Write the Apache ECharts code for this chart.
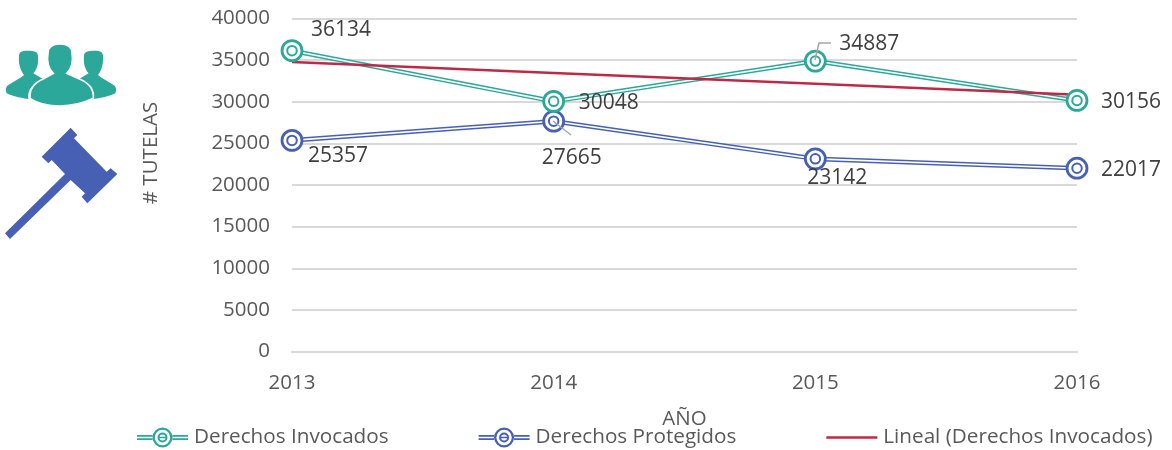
<!DOCTYPE html>
<html><head><meta charset="utf-8">
<style>html,body{margin:0;padding:0;background:#fff}#c{width:1172px;height:450px}</style>
<script src="https://cdn.jsdelivr.net/npm/echarts@6/dist/echarts.min.js"></script>
</head><body><div id="c"></div>
<script>
const years = ['2013','2014','2015','2016'];
const invocados = [36134,30048,34887,30156];
const protegidos = [25357,27665,23142,22017];
const tendencia = [34770,33460,32150,30840];
const invocadosOffsets = [[49,-21],[55,2],[54,-17],[54,2]];
const protegidosOffsets = [[46,16],[18,37],[22,19],[54,2]];
const TEAL='#2ca89a', BLUE='#4860b4', RED='#be2a45';
const FONT='"Open Sans", sans-serif';

const chart = echarts.init(document.getElementById('c'),null,{renderer:'canvas'});
function circ(cx,cy,r,cw){const s=cw?1:0;return `M${cx-r} ${cy}A${r} ${r} 0 1 ${s} ${cx+r} ${cy}A${r} ${r} 0 1 ${s} ${cx-r} ${cy}Z`;}
const legendIcon='path://M0 7.6H15.5V9.2H0ZM0 10.8H15.5V12.4H0ZM35.500 7.600H51V9.200H35.500ZM35.500 10.800H51V12.400H35.500Z'
 +circ(25.5,10,10,true)+circ(25.5,10,7.7,false)+circ(25.5,10,5,true)+circ(25.5,10,3,false)+'M21 9.300H30V10.700H21Z';
const trendIcon='path://M0 8.800H51V11.200H0Z';

function doubleLine(name,data,color,offsets){
  const common={type:'line',data,clip:false,animation:false,silent:true};
  return [
    {...common,name,lineStyle:{color,width:4.6},itemStyle:{color},symbol:'none'},
    {...common,name:name+' interior',lineStyle:{color:'#fff',width:1.6},symbol:'none'},
    {...common,name:name+' anillo',lineStyle:{width:0},symbol:'circle',symbolSize:20,
      itemStyle:{color:'#fff',borderColor:color,borderWidth:2.8}},
    {...common,name:name+' centro',lineStyle:{width:0},symbol:'circle',symbolSize:9.5,
      itemStyle:{color:'#fff',borderColor:color,borderWidth:2},
      data:data.map((v,i)=>({value:v,label:{show:true,position:'inside',offset:offsets[i],
        formatter:String(v),color:'#404040',fontSize:21,fontFamily:FONT}}))},
  ];
}
const P=[0,20], s=1/3;
const personLeft='M57 108C57 92 72 92 85 92C100 92 114 94 114 108C116 128 112 148 100 160L130 178L95 200C85 212 83 225 85 237C55 233 35 228 20 220C14 205 20 197 30 192C45 183 60 175 72 165C60 150 55 128 57 108Z';
const personRight='M309 108C309 92 294 92 281 92C266 92 252 94 252 108C250 128 254 148 266 160L236 178L271 200C281 212 283 225 281 237C311 233 331 228 346 220C352 205 346 197 336 192C321 183 306 175 294 165C306 150 311 128 309 108Z';
const personCenter='M144 100C144 78 160 72 180 72C202 72 216 80 216 100C221 125 214 148 200 160L240 178C268 190 282 210 280 235C245 252 215 258 180 258C145 258 115 252 90 235C88 210 100 190 128 178L160 160C146 148 139 125 144 100Z';
const gavel='M125 410L212 323L232 345L222 355L320 455L332 445L352 462L262 550L245 530L255 520L212 480L30 657L15 640L195 462L155 420L145 430Z';
const shapes={personLeft,personRight,personCenter,gavel};
Object.keys(shapes).forEach(k=>echarts.graphic.registerShape(k,echarts.graphic.extendPath(shapes[k],{})));
function icon(type,color,extra){return {type,x:P[0],y:P[1],scaleX:s,scaleY:s,silent:true,
  style:{fill:color,...(extra||{})}};}
function leader(points){return {type:'polyline',silent:true,z:20,shape:{points},style:{stroke:'#a6a6a6',lineWidth:1.5,fill:null}};}

chart.setOption({
  animation:false,
  grid:{left:292,right:95,top:18.5,bottom:98.5},
  xAxis:{type:'category',data:years,boundaryGap:false,
    name:'AÑO',nameLocation:'middle',nameGap:57,
    nameTextStyle:{color:'#595959',fontSize:20.5,fontFamily:FONT},
    axisLine:{lineStyle:{color:'#d9d9d9',width:2}},axisTick:{show:false},
    axisLabel:{color:'#595959',fontSize:20.5,fontFamily:FONT,margin:21,alignMinLabel:'center',alignMaxLabel:'center'},
    splitLine:{show:false}},
  yAxis:{type:'value',min:0,max:40000,interval:5000,
    name:'# TUTELAS',nameLocation:'middle',nameGap:130,
    nameTextStyle:{color:'#595959',fontSize:20.5,fontFamily:FONT,padding:[0,0,0,64]},
    axisLine:{show:false},axisTick:{show:false},
    axisLabel:{color:'#595959',fontSize:20.5,fontFamily:FONT,margin:22,formatter:v=>String(v),padding:[0,0,3,0]},
    splitLine:{lineStyle:{color:'#d9d9d9',width:2}}},
  legend:{left:137,top:427,padding:0,itemWidth:51,itemHeight:20,itemGap:90,
    textStyle:{color:'#595959',fontSize:20.7,fontFamily:FONT,padding:[0,0,0,1]},
    selectedMode:false,
    data:[{name:'Derechos Invocados',icon:legendIcon,itemStyle:{color:TEAL}},
          {name:'Derechos Protegidos',icon:legendIcon,itemStyle:{color:BLUE}},
          {name:'Lineal (Derechos Invocados)',icon:trendIcon,itemStyle:{color:RED}}]},
  series:[
    ...doubleLine('Derechos Protegidos',protegidos,BLUE,protegidosOffsets),
    ...doubleLine('Derechos Invocados',invocados,TEAL,invocadosOffsets),
    {type:'line',name:'Lineal (Derechos Invocados)',data:tendencia,symbol:'none',clip:false,silent:true,
     lineStyle:{color:RED,width:2.5},itemStyle:{color:RED}}
  ],
  graphic:[
    icon('personLeft',TEAL),icon('personRight',TEAL),
    icon('personCenter',TEAL,{stroke:'#fff',lineWidth:5}),
    icon('gavel',BLUE),
    leader([[553,121],[571,135]]),
    leader([[815,60],[819,43],[831,43]])
  ]
});
</script></body></html>
